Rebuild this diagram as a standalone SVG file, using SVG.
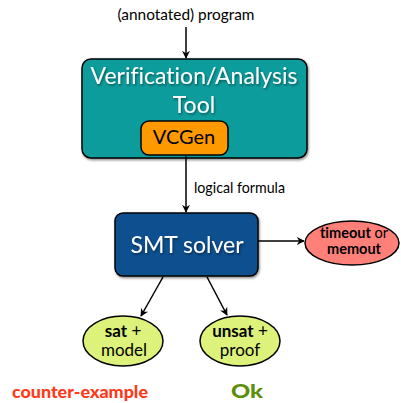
<svg xmlns="http://www.w3.org/2000/svg" width="401" height="403" viewBox="0 0 401 403">
<defs>
<marker id="ah" viewBox="0 0 10 10" refX="9" refY="5" markerWidth="8" markerHeight="8" markerUnits="userSpaceOnUse" orient="auto">
<path d="M0,0 L10,5 L0,10 L3,5 Z" fill="#000"/>
</marker>
<filter id="sh" x="-10%" y="-10%" width="130%" height="130%">
<feDropShadow dx="1" dy="1.5" stdDeviation="1" flood-color="#000" flood-opacity="0.45"/>
</filter>
</defs>
<style>
text{font-family:Lato,"Open Sans","Liberation Sans",sans-serif;font-variant-ligatures:none;}
.lbl{font-size:15px;fill:#000;}
.box{stroke:#000;stroke-width:1.5;}
.white{fill:#fff;text-anchor:middle;font-size:23px;}
.ell{stroke:#000;stroke-width:1.5;}
.etx{font-size:14.5px;text-anchor:middle;fill:#000;}
.etx2{font-size:17px;text-anchor:middle;fill:#000;}
.conn line{stroke:#000;stroke-width:1.5;}
</style>
<rect width="401" height="403" fill="#fff"/>
<g id="program-label">
<text class="lbl" x="186" y="20" text-anchor="middle" textLength="137" lengthAdjust="spacingAndGlyphs">(annotated) program</text>
</g>
<g id="tool">
<rect class="box" x="82" y="59" width="225" height="99" rx="9" fill="#0E9C9C" filter="url(#sh)"/>
<text class="white" x="194" y="84" filter="url(#sh)">Verification/Analysis</text>
<text class="white" x="194" y="113" filter="url(#sh)">Tool</text>
</g>
<g id="vcgen">
<rect class="box" x="141" y="121" width="87" height="34" rx="8" fill="#FF9900"/>
<text x="184" y="144" font-size="20" text-anchor="middle" fill="#000">VCGen</text>
</g>
<g id="smt">
<rect class="box" x="115" y="213" width="143" height="63" rx="8" fill="#0B4F8F" filter="url(#sh)"/>
<text class="white" x="187" y="253" filter="url(#sh)">SMT solver</text>
</g>
<g id="timeout">
<ellipse class="ell" cx="352" cy="243" rx="47" ry="22" fill="#FF7F79"/>
<text class="etx" x="354" y="238"><tspan font-weight="bold">timeout</tspan> or</text>
<text class="etx" x="354" y="254" font-weight="bold">memout</text>
</g>
<g id="sat">
<ellipse class="ell" cx="123" cy="341" rx="40" ry="25" fill="#DDF27A"/>
<text class="etx2" x="123" y="337"><tspan font-weight="bold">sat</tspan> +</text>
<text class="etx2" x="124" y="356">model</text>
</g>
<g id="unsat">
<ellipse class="ell" cx="240" cy="341" rx="40" ry="25" fill="#DDF27A"/>
<text class="etx2" x="240" y="337"><tspan font-weight="bold">unsat</tspan> +</text>
<text class="etx2" x="240" y="356">proof</text>
</g>
<g id="counter-example">
<text x="80" y="398" font-size="17" font-weight="900" text-anchor="middle" fill="#FF3A1A" textLength="136" lengthAdjust="spacingAndGlyphs">counter-example</text>
</g>
<g id="ok">
<text x="247" y="398" font-size="19" font-weight="900" text-anchor="middle" fill="#5C8F0A" textLength="32" lengthAdjust="spacingAndGlyphs">Ok</text>
</g>
<g id="connectors" class="conn">
<line x1="186" y1="27" x2="186" y2="58" marker-end="url(#ah)"/>
<line x1="186" y1="156" x2="186" y2="212" marker-end="url(#ah)"/>
<text class="lbl" x="194" y="193" stroke="none" textLength="91" lengthAdjust="spacingAndGlyphs">logical formula</text>
<line x1="258" y1="241" x2="304" y2="241" marker-end="url(#ah)"/>
<line x1="163" y1="277" x2="141" y2="316" marker-end="url(#ah)"/>
<line x1="207" y1="277" x2="227" y2="315" marker-end="url(#ah)"/>
</g>
</svg>
